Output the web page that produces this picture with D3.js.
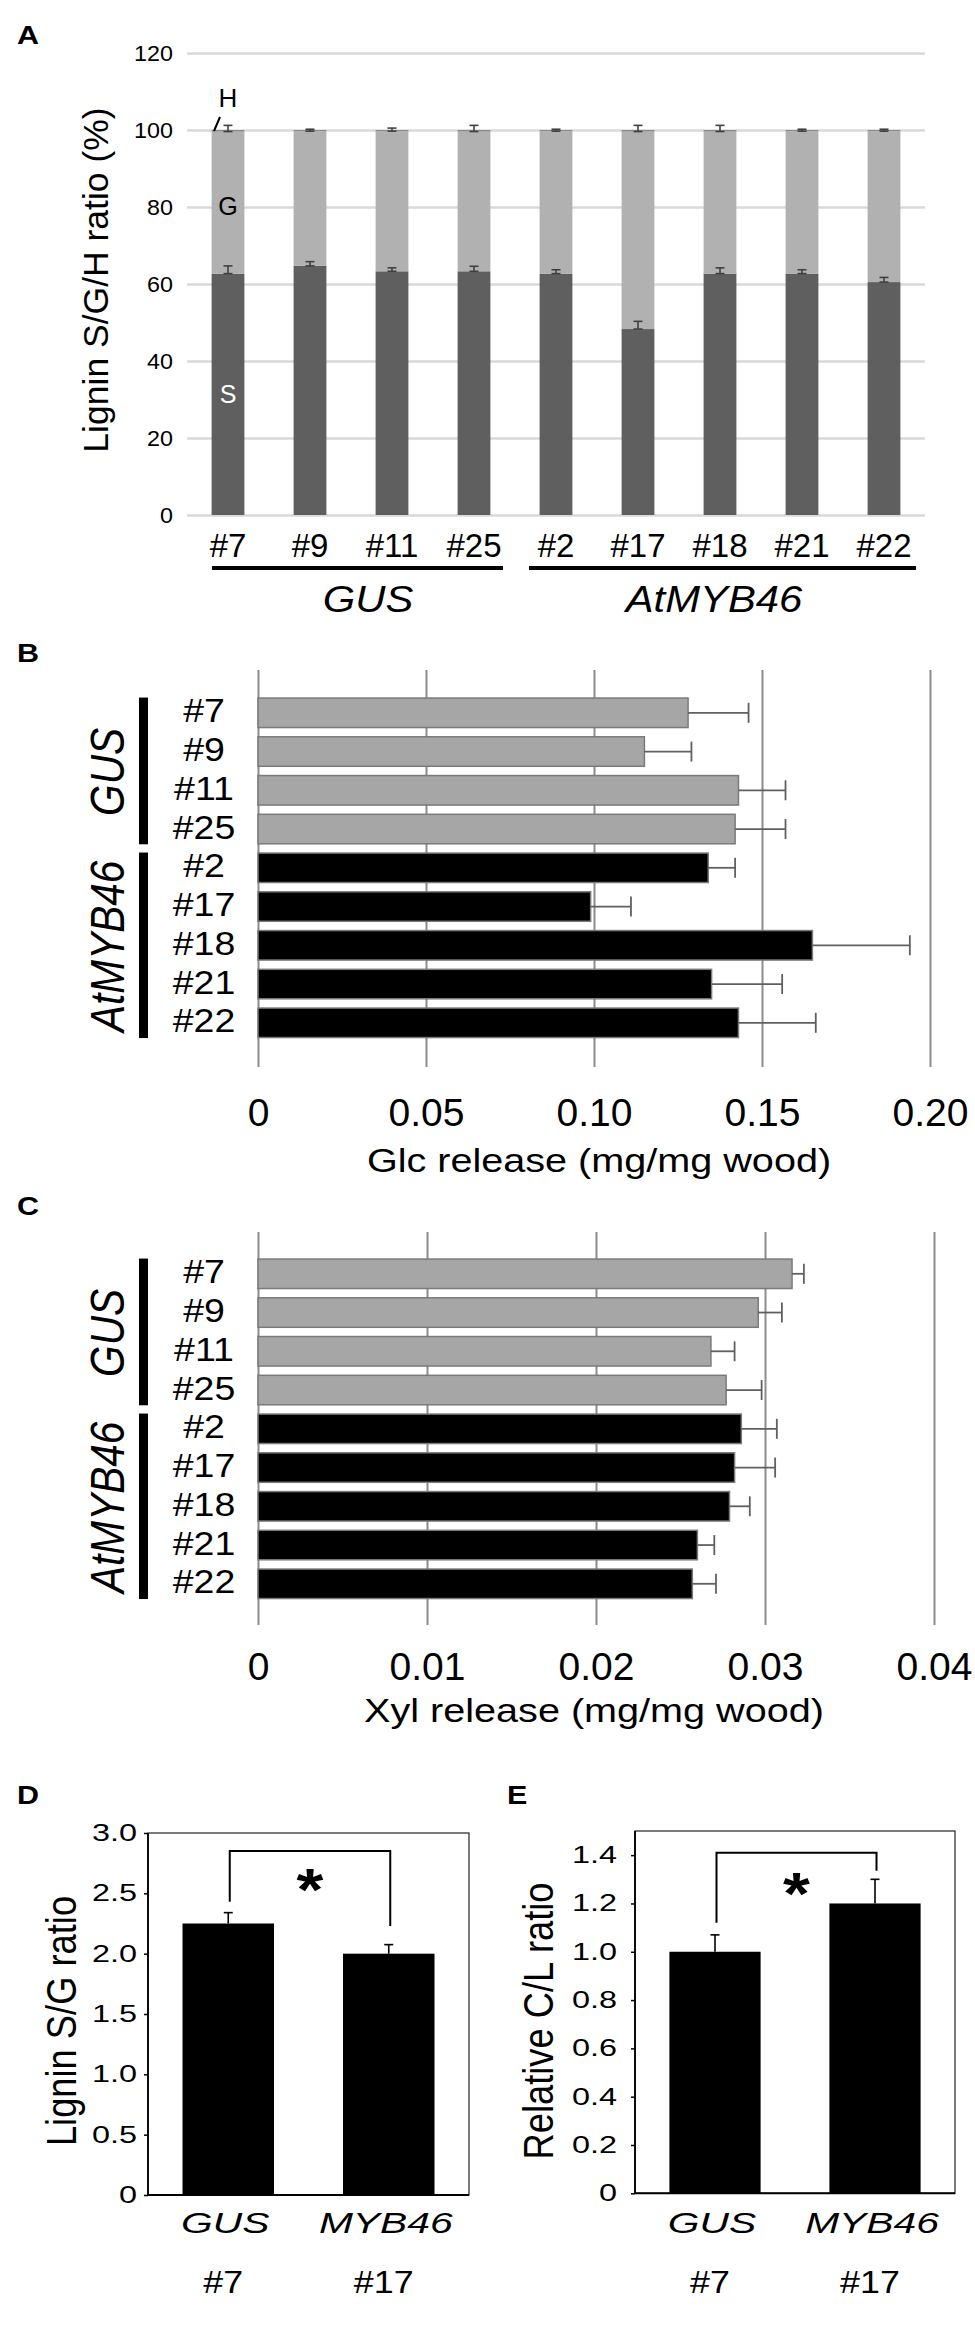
<!DOCTYPE html>
<html><head><meta charset="utf-8">
<script src="https://cdn.jsdelivr.net/npm/d3@7"></script>
<style>
body{margin:0;background:#fff}
svg{display:block}
text{font-family:"Liberation Sans",Arial,Helvetica,sans-serif}
</style>
</head><body>
<svg id="chart" width="975" height="2346"></svg>
<script>
// ---------- data ----------
const lines = ["#7","#9","#11","#25","#2","#17","#18","#21","#22"];
const gusLines = ["#7","#9","#11","#25"];
const mybLines = ["#2","#17","#18","#21","#22"];

// Panel A: lignin S/G/H (%)
const sValues = [62.7, 64.7, 63.3, 63.3, 62.7, 48.3, 62.7, 62.7, 60.5];
const gValues = [36.9, 35.0, 36.4, 36.3, 37.0, 51.3, 36.9, 37.0, 39.2];
const hValues = [0.4, 0.3, 0.3, 0.4, 0.3, 0.4, 0.4, 0.3, 0.3];
const sErr = [2.0, 1.1, 0.9, 1.3, 1.0, 2.0, 1.5, 1.0, 1.2];
const gErr = [1.6, 0.5, 0.8, 1.6, 0.5, 1.6, 1.6, 0.5, 0.5];
const aTicks = [0, 20, 40, 60, 80, 100, 120];

// Panel B: Glc release
const glcValues = [0.128, 0.115, 0.143, 0.142, 0.134, 0.099, 0.165, 0.135, 0.143];
const glcErr = [0.018, 0.014, 0.014, 0.015, 0.008, 0.012, 0.029, 0.021, 0.023];
const bTicks = [0, 0.05, 0.10, 0.15, 0.20];
const bTickLabels = ["0", "0.05", "0.10", "0.15", "0.20"];

// Panel C: Xyl release
const xylValues = [0.0316, 0.0296, 0.0268, 0.0277, 0.0286, 0.0282, 0.0279, 0.0260, 0.0257];
const xylErr = [0.0007, 0.0014, 0.0014, 0.0021, 0.0021, 0.0024, 0.0012, 0.0010, 0.0014];
const cTicks = [0, 0.01, 0.02, 0.03, 0.04];
const cTickLabels = ["0", "0.01", "0.02", "0.03", "0.04"];

// Panels D/E
const deGroups = ["GUS", "MYB46"];
const deNums = ["#7", "#17"];
const sgValues = [2.25, 2.00];
const sgErr = [0.09, 0.075];
const dTicks = [0, 0.5, 1.0, 1.5, 2.0, 2.5, 3.0];
const dTickLabels = ["0", "0.5", "1.0", "1.5", "2.0", "2.5", "3.0"];
const clValues = [1.00, 1.20];
const clErr = [0.07, 0.10];
const eTicks = [0, 0.2, 0.4, 0.6, 0.8, 1.0, 1.2, 1.4];
const eTickLabels = ["0", "0.2", "0.4", "0.6", "0.8", "1.0", "1.2", "1.4"];
const bracketD = [2.43, 2.85, 2.23];   // left end, top, right end
const bracketE = [1.12, 1.41, 1.335];
const starD = 2.65, starE = 1.30;

// ---------- helpers ----------
const svg = d3.select("#chart");
const FONT = '"Liberation Sans",Arial,Helvetica,sans-serif';
function label(parent, x, y, s, o = {}) {
  const sx = o.sx || 1, rot = o.rot || 0;
  return parent.append("text")
    .attr("transform", `translate(${x},${y}) scale(${sx},1)` + (rot ? ` rotate(${rot})` : ""))
    .attr("text-anchor", o.anchor || "middle")
    .attr("font-size", o.size)
    .attr("font-weight", o.bold ? "bold" : null)
    .attr("font-style", o.italic ? "italic" : null)
    .attr("fill", o.fill || "#000")
    .text(s);
}
function styleTicks(g, size, sx) {
  g.selectAll(".tick text").attr("font-size", size).attr("font-family", FONT).attr("fill", "#000");
  if (sx && sx !== 1) {
    g.selectAll(".tick text").each(function () {
      const t = d3.select(this);
      const x = +t.attr("x") || 0;
      t.attr("x", x / sx).attr("transform", `scale(${sx},1)`);
    });
  }
}

// ---------- panel letters ----------
[["A", 17, 44], ["B", 17, 662], ["C", 17, 1215], ["D", 17, 1804], ["E", 507, 1804]].forEach(([t, x, y]) =>
  label(svg, x, y, t, { size: 25, bold: true, anchor: "start", sx: 1.22 }));

// ---------- Panel A ----------
{
  const g = svg.append("g");
  const yA = d3.scaleLinear().domain([0, 120]).range([515, 53]);
  const xA = d3.scaleBand().domain(lines).range([187, 925]).paddingInner(0.6).paddingOuter(0.3);
  const bw = xA.bandwidth();

  g.append("g").attr("transform", "translate(187,0)")
    .call(d3.axisLeft(yA).tickValues(aTicks).tickSize(-738).tickPadding(14))
    .call(a => {
      a.select(".domain").remove();
      a.selectAll(".tick line").attr("stroke", "#d9d9d9").attr("stroke-width", 2.5);
      styleTicks(a, 22, 1.06);
    });

  const rows = lines.map((l, i) => ({ l, s: sValues[i], gv: gValues[i], h: hValues[i], se: sErr[i], ge: gErr[i] }));
  const bars = g.append("g");
  bars.selectAll(".s").data(rows).join("rect")
    .attr("x", d => xA(d.l)).attr("width", bw)
    .attr("y", d => yA(d.s)).attr("height", d => yA(0) - yA(d.s)).attr("fill", "#5f5f5f");
  bars.selectAll(".g").data(rows).join("rect")
    .attr("x", d => xA(d.l)).attr("width", bw)
    .attr("y", d => yA(d.s + d.gv)).attr("height", d => yA(d.s) - yA(d.s + d.gv)).attr("fill", "#b1b1b1");
  bars.selectAll(".h").data(rows).join("rect")
    .attr("x", d => xA(d.l)).attr("width", bw)
    .attr("y", d => yA(d.s + d.gv + d.h)).attr("height", d => yA(d.s + d.gv) - yA(d.s + d.gv + d.h)).attr("fill", "#8a8a8a");

  const eb = g.append("g").attr("stroke", "#404040").attr("stroke-width", 1.6);
  rows.forEach(d => {
    const cx = xA(d.l) + bw / 2;
    [[d.s, d.se], [d.s + d.gv, d.ge]].forEach(([v, e]) => {
      eb.append("line").attr("x1", cx).attr("x2", cx).attr("y1", yA(v)).attr("y2", yA(v + e));
      eb.append("line").attr("x1", cx - 4.5).attr("x2", cx + 4.5).attr("y1", yA(v + e)).attr("y2", yA(v + e));
      eb.append("line").attr("x1", cx - 4.5).attr("x2", cx + 4.5).attr("y1", yA(v)).attr("y2", yA(v));
    });
  });

  g.append("g").attr("transform", "translate(0,515)")
    .call(d3.axisBottom(xA).tickSize(0).tickPadding(18.6))
    .call(a => { a.select(".domain").remove(); styleTicks(a, 33, 1); });

  // segment labels on first bar
  const c0 = xA(lines[0]) + bw / 2;
  label(g, c0, 107, "H", { size: 26 });
  g.append("line").attr("x1", 214).attr("y1", 131).attr("x2", 220).attr("y2", 117).attr("stroke", "#000").attr("stroke-width", 2);
  label(g, c0, 215, "G", { size: 25 });
  label(g, c0, 403, "S", { size: 25, fill: "#fff" });

  // group underlines
  const gx1 = xA(gusLines[0]) + bw / 2 - 16, gx2 = xA(gusLines[gusLines.length - 1]) + bw / 2 + 29;
  const mx1 = xA(mybLines[0]) + bw / 2 - 27, mx2 = xA(mybLines[mybLines.length - 1]) + bw / 2 + 32;
  g.append("line").attr("x1", gx1).attr("x2", gx2).attr("y1", 568).attr("y2", 568).attr("stroke", "#000").attr("stroke-width", 4);
  g.append("line").attr("x1", mx1).attr("x2", mx2).attr("y1", 568).attr("y2", 568).attr("stroke", "#000").attr("stroke-width", 4);
  label(g, 368, 612, "GUS", { size: 37, italic: true, sx: 1.13 });
  label(g, 714, 612, "AtMYB46", { size: 37, italic: true, sx: 1.13 });

  label(g, 108, 280, "Lignin S/G/H ratio (%)", { size: 35.5, rot: -90 });
}

// ---------- Panels B & C ----------
function hPanel(cfg) {
  const g = svg.append("g");
  const x = d3.scaleLinear().domain([0, cfg.dmax]).range([258, cfg.xEnd]);
  const y = d3.scaleBand().domain(lines).range([cfg.r0, cfg.r0 + 348.8]).paddingInner(0.239).paddingOuter(0.12);
  const bh = y.bandwidth();

  g.append("g").attr("transform", `translate(0,${cfg.gridBottom})`)
    .call(d3.axisBottom(x).tickValues(cfg.ticks).tickFormat((d, i) => cfg.tickLabels[i])
      .tickSize(-(cfg.gridBottom - cfg.gridTop)).tickPadding(cfg.tickPad))
    .call(a => {
      a.select(".domain").remove();
      a.selectAll(".tick line").attr("stroke", "#8c8c8c").attr("stroke-width", 2);
      styleTicks(a, 39, 1);
    });

  const rows = lines.map((l, i) => ({ l, v: cfg.values[i], e: cfg.errs[i], grp: gusLines.includes(l) ? "GUS" : "MYB" }));
  g.selectAll(".bar").data(rows).join("rect")
    .attr("x", x(0)).attr("y", d => y(d.l)).attr("height", bh)
    .attr("width", d => x(d.v) - x(0))
    .attr("fill", d => d.grp === "GUS" ? "#a6a6a6" : "#000")
    .attr("stroke", "#7a7a7a").attr("stroke-width", 1.5);

  const eb = g.append("g").attr("stroke", "#606060").attr("stroke-width", 1.8);
  rows.forEach(d => {
    const cy = y(d.l) + bh / 2;
    eb.append("line").attr("x1", x(d.v)).attr("x2", x(d.v + d.e)).attr("y1", cy).attr("y2", cy);
    eb.append("line").attr("x1", x(d.v + d.e)).attr("x2", x(d.v + d.e)).attr("y1", cy - 10).attr("y2", cy + 10);
  });

  rows.forEach(d => label(g, 204, y(d.l) + bh / 2 + 9.5, d.l, { size: 33.5, sx: 1.12 }));

  [[gusLines, "GUS"], [mybLines, "AtMYB46"]].forEach(([ls, name]) => {
    const top = y(ls[0]) - 0.5, bot = y(ls[ls.length - 1]) + bh + 0.5;
    g.append("rect").attr("x", 139).attr("width", 9).attr("y", top).attr("height", bot - top).attr("fill", "#000");
    label(g, 124, (top + bot) / 2 + 1, name, { size: 40.6, italic: true, rot: -90, sx: 1.17 });
  });

  label(g, cfg.titleX, cfg.titleY, cfg.title, { size: 33, sx: 1.2 });
}

hPanel({ values: glcValues, errs: glcErr, dmax: 0.2, xEnd: 930, r0: 693.4, gridTop: 670, gridBottom: 1067,
  ticks: bTicks, tickLabels: bTickLabels, tickPad: 31.3, title: "Glc release (mg/mg wood)", titleX: 599, titleY: 1172 });
hPanel({ values: xylValues, errs: xylErr, dmax: 0.04, xEnd: 934, r0: 1254.4, gridTop: 1232, gridBottom: 1625,
  ticks: cTicks, tickLabels: cTickLabels, tickPad: 27.3, title: "Xyl release (mg/mg wood)", titleX: 594, titleY: 1722 });

// ---------- Panels D & E ----------
function vPanel(cfg) {
  const g = svg.append("g");
  const y = d3.scaleLinear().domain([0, cfg.ymax]).range([cfg.bottom, cfg.top]);
  const x = d3.scaleBand().domain(deGroups).range([cfg.left, cfg.right]).paddingInner(0.43).paddingOuter(0.215);
  const bw = x.bandwidth();

  g.append("rect").attr("x", cfg.left).attr("y", cfg.top).attr("width", cfg.right - cfg.left)
    .attr("height", cfg.bottom - cfg.top).attr("fill", "none").attr("stroke", "#333").attr("stroke-width", 1.3);
  g.append("line").attr("x1", cfg.left).attr("x2", cfg.right).attr("y1", cfg.bottom).attr("y2", cfg.bottom)
    .attr("stroke", "#000").attr("stroke-width", 2);
  g.append("line").attr("x1", cfg.left).attr("x2", cfg.left).attr("y1", cfg.top).attr("y2", cfg.bottom)
    .attr("stroke", "#000").attr("stroke-width", 1.8);

  g.append("g").attr("transform", `translate(${cfg.left},0)`)
    .call(d3.axisLeft(y).tickValues(cfg.ticks).tickFormat((d, i) => cfg.tickLabels[i]).tickSize(4).tickSizeOuter(0).tickPadding(cfg.tickPad))
    .call(a => {
      a.select(".domain").remove();
      a.selectAll(".tick line").attr("stroke", "#000").attr("stroke-width", 1.5);
      styleTicks(a, 23.5, 1.38);
    });

  const rows = deGroups.map((k, i) => ({ k, n: deNums[i], v: cfg.values[i], e: cfg.errs[i] }));
  g.selectAll(".bar").data(rows).join("rect")
    .attr("x", d => x(d.k)).attr("width", bw)
    .attr("y", d => y(d.v)).attr("height", d => y(0) - y(d.v)).attr("fill", "#000");

  const eb = g.append("g").attr("stroke", "#000").attr("stroke-width", 1.6);
  rows.forEach(d => {
    const cx = x(d.k) + bw / 2;
    eb.append("line").attr("x1", cx).attr("x2", cx).attr("y1", y(d.v)).attr("y2", y(d.v + d.e));
    eb.append("line").attr("x1", cx - 4.5).attr("x2", cx + 4.5).attr("y1", y(d.v + d.e)).attr("y2", y(d.v + d.e));
    label(g, cx - 3, 2233, d.k, { size: 30, italic: true, sx: 1.36 });
    label(g, cx - 5, 2293, d.n, { size: 32, sx: 1.12 });
  });

  const cxL = x(deGroups[0]) + bw / 2 + 1.5, cxR = x(deGroups[1]) + bw / 2 + 1.5;
  const b = cfg.bracket;
  g.append("path").attr("d", `M${cxL},${y(b[0])}V${y(b[1])}H${cxR}V${y(b[2])}`)
    .attr("fill", "none").attr("stroke", "#000").attr("stroke-width", 2);
  label(g, (cxL + cxR) / 2, y(cfg.star) + 35, "*", { size: 60, bold: true, sx: 1.15 });

  label(g, cfg.titleX, 2021, cfg.title, { size: 36.3, rot: -90, sx: 1.17 });
}

vPanel({ left: 148, right: 469, top: 1833, bottom: 2195, ymax: 3.0, ticks: dTicks, tickLabels: dTickLabels,
  tickPad: 7, values: sgValues, errs: sgErr, bracket: bracketD, star: starD, title: "Lignin S/G ratio", titleX: 76 });
vPanel({ left: 635, right: 955, top: 1831, bottom: 2193.3, ymax: 1.5, ticks: eTicks, tickLabels: eTickLabels,
  tickPad: 14, values: clValues, errs: clErr, bracket: bracketE, star: starE, title: "Relative C/L ratio", titleX: 553 });
</script>
</body></html>
